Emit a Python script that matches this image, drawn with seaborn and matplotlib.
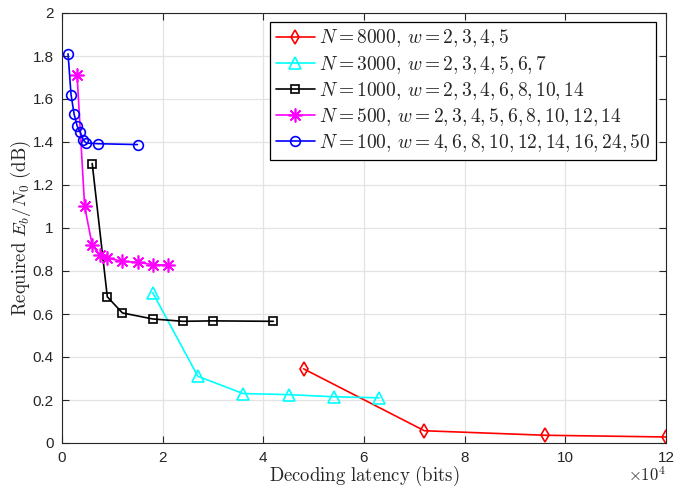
import numpy as np
import pandas as pd
import matplotlib
matplotlib.use("Agg")
import matplotlib.pyplot as plt
from matplotlib.ticker import FuncFormatter, MultipleLocator
import seaborn as sns

# Data (x = decoding latency in bits, y = required Eb/N0 in dB)
x_8000 = [48000, 72000, 96000, 120000]
y_8000 = [0.345, 0.057, 0.036, 0.028]

x_3000 = [18000, 27000, 36000, 45000, 54000, 63000]
y_3000 = [0.70, 0.31, 0.23, 0.225, 0.215, 0.21]

x_1000 = [6000, 9000, 12000, 18000, 24000, 30000, 42000]
y_1000 = [1.30, 0.68, 0.605, 0.577, 0.566, 0.568, 0.566]

x_500 = [3000, 4500, 6000, 7500, 9000, 12000, 15000, 18000, 21000]
y_500 = [1.71, 1.10, 0.92, 0.875, 0.86, 0.845, 0.84, 0.83, 0.827]

x_100 = [1200, 1800, 2400, 3000, 3600, 4200, 4800, 7200, 15000]
y_100 = [1.81, 1.62, 1.53, 1.475, 1.447, 1.41, 1.395, 1.392, 1.388]

labels = [r"$N=8000,\,w=2,3,4,5$",
          r"$N=3000,\,w=2,3,4,5,6,7$",
          r"$N=1000,\,w=2,3,4,6,8,10,14$",
          r"$N=500,\,w=2,3,4,5,6,8,10,12,14$",
          r"$N=100,\,w=4,6,8,10,12,14,16,24,50$"]
xs = [x_8000, x_3000, x_1000, x_500, x_100]
ys = [y_8000, y_3000, y_1000, y_500, y_100]
colors = ["#ff0000", "#00ffff", "#000000", "#ff00ff", "#0000ff"]
markers = ["d", "^", "s", (8, 2, 0), "o"]
msizes = [7, 8, 6, 10, 7]

sns.set_theme(style="whitegrid")
plt.rcParams["font.family"] = ["Liberation Sans", "DejaVu Sans"]
plt.rcParams["mathtext.fontset"] = "cm"

fig = plt.figure(figsize=(6.92, 4.87), dpi=100)
ax = fig.add_axes([62/692, 44/487, 604/692, 430/487])

for x, y, lab, c, m, ms in zip(xs, ys, labels, colors, markers, msizes):
    df = pd.DataFrame({"x": x, "y": y})
    sns.lineplot(data=df, x="x", y="y", ax=ax, color=c, marker=m,
                 markersize=ms, markerfacecolor="none", markeredgecolor=c,
                 markeredgewidth=1.2, linewidth=1.2, sort=False, label=lab,
                 estimator=None)

ax.set_xlim(0, 120000)
ax.set_ylim(0, 2)
ax.xaxis.set_major_locator(MultipleLocator(20000))
ax.yaxis.set_major_locator(MultipleLocator(0.2))
ax.xaxis.set_major_formatter(FuncFormatter(lambda v, p: f"{v/1e4:g}"))
ax.yaxis.set_major_formatter(FuncFormatter(lambda v, p: f"{v:g}"))
ax.set_facecolor("white")
ax.grid(True, color="#e3e3e3", linewidth=0.9)
for s in ax.spines.values():
    s.set_visible(True)
    s.set_color("#262626")
    s.set_linewidth(0.8)
ax.tick_params(direction="in", length=5, width=0.8, colors="#262626",
               labelsize=11, top=True, right=True, bottom=True, left=True,
               pad=6, labelcolor="#262626")

ax.set_xlabel(r"$\mathrm{Decoding\ latency\ (bits)}$", fontsize=13.5, labelpad=-1)
ax.set_ylabel(r"$\mathrm{Required}\ E_b/N_0\ \mathrm{(dB)}$", fontsize=13.5, labelpad=0)
ax.text(1.0, -0.052, r"$\times10^4$", transform=ax.transAxes, ha="right",
        va="top", fontsize=12, color="#262626")

leg = ax.legend(loc="upper right", bbox_to_anchor=(0.9835, 0.98), fontsize=14,
                frameon=True, fancybox=False, framealpha=1, edgecolor="#000000",
                handlelength=2.0, handletextpad=0.2, borderpad=0.3,
                labelspacing=0.22, borderaxespad=0)
leg.get_frame().set_linewidth(0.9)

fig.savefig("out.png", dpi=100)
